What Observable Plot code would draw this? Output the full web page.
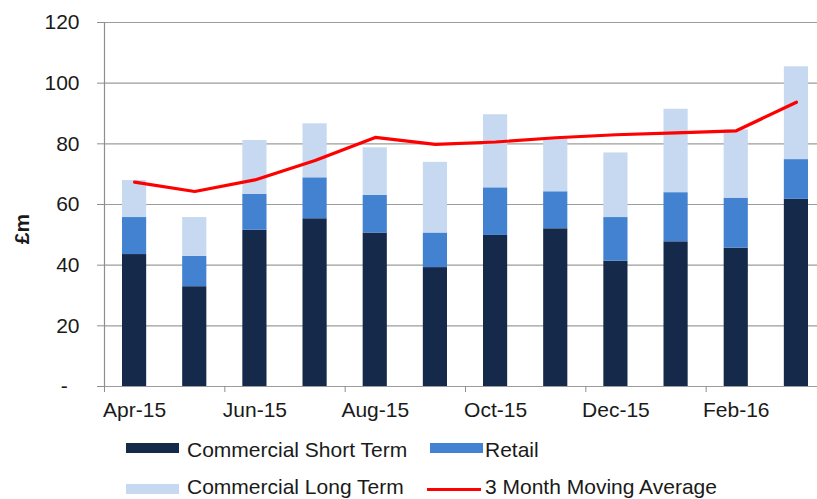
<!DOCTYPE html>
<html><head><meta charset="utf-8">
<script src="https://cdn.jsdelivr.net/npm/d3@7"></script>
<script src="https://cdn.jsdelivr.net/npm/@observablehq/plot@0.6"></script>
<style>
html,body{margin:0;padding:0;background:#fff;}
#wrap{position:relative;width:817px;height:499px;overflow:hidden;font-family:"Liberation Sans",Arial,sans-serif;color:#1a1a1a;}
#wrap svg{display:block;}
.ylab{position:absolute;left:21px;top:229px;transform:translate(-50%,-50%) rotate(-90deg);font-weight:bold;font-size:21px;line-height:21px;white-space:nowrap;}
.lg{position:absolute;font-size:21px;line-height:20px;white-space:nowrap;}
.sw{position:absolute;}
</style></head><body><div id="wrap"></div>
<script>
const months = ["Apr-15","May-15","Jun-15","Jul-15","Aug-15","Sep-15","Oct-15","Nov-15","Dec-15","Jan-16","Feb-16","Mar-16"];
const shortTerm = [43.5, 32.9, 51.5, 55.3, 50.6, 39.2, 49.8, 52.0, 41.3, 47.7, 45.6, 61.7];
const retail    = [12.2, 10.0, 11.9, 13.5, 12.4, 11.4, 15.7, 12.2, 14.4, 16.2, 16.5, 13.1];
const longTerm  = [12.2, 12.8, 17.7, 17.8, 15.7, 23.3, 24.1, 17.5, 21.3, 27.5, 22.5, 30.6];
const movingAvg = [67.4, 64.3, 68.1, 74.5, 82.1, 79.8, 80.6, 82.0, 83.0, 83.6, 84.3, 93.7];
const seriesNames = ["Commercial Short Term", "Retail", "Commercial Long Term"];
const seriesColors = ["#152a4a", "#4382d0", "#c6d9f0"];
const lineName = "3 Month Moving Average";
const lineColor = "#ff0000";
const yTicks = [0, 20, 40, 60, 80, 100, 120];
const yLabel = "£m";

const seriesValues = [shortTerm, retail, longTerm];
const bars = [];
months.forEach((m, i) => {
  seriesValues.forEach((arr, k) => bars.push({i, month: m, series: seriesNames[k], value: arr[i]}));
});
const avg = months.map((m, i) => ({i, month: m, value: movingAvg[i]}));
const boundaryTicks = months.map((m, i) => i).filter(i => i % 2 === 0);
const labelTicks = boundaryTicks.map(i => i + 0.5);

const axisColor = "#8e8e8e";
const chart = Plot.plot({
  width: 817, height: 424,
  marginLeft: 104, marginRight: -9, marginTop: 22, marginBottom: 38,
  style: {fontFamily: "'Liberation Sans', Arial, sans-serif", fontSize: "21px", color: "#1a1a1a", background: "#fff", overflow: "hidden"},
  x: {type: "linear", domain: [0, months.length]},
  y: {domain: [0, 120]},
  color: {domain: seriesNames, range: seriesColors},
  marks: [
    Plot.gridY(yTicks, {stroke: "#9c9c9c", strokeOpacity: 1, strokeWidth: 1.2}),
    Plot.rectY(bars, {x1: "i", x2: d => d.i + 1, y: "value", fill: "series", insetLeft: 18, insetRight: 18}),
    Plot.ruleX([0], {stroke: axisColor, strokeWidth: 1.2}),
    Plot.axisY(yTicks, {tickSize: 7, tickPadding: 18, stroke: axisColor, fill: "#1a1a1a", label: null,
      tickFormat: d => d === 0 ? "-\u2007" : String(d)}),
    Plot.axisX(boundaryTicks, {tickSize: 6, stroke: axisColor, tickFormat: () => "", label: null}),
    Plot.axisX(labelTicks, {tickSize: 0, tickPadding: 16, fill: "#1a1a1a", label: null,
      tickFormat: d => months[d - 0.5]}),
    Plot.lineY(avg, {x: d => d.i + 0.5, y: "value", stroke: lineColor, strokeWidth: 3.2})
  ]
});

const wrap = document.getElementById("wrap");
wrap.appendChild(chart);

const yl = document.createElement("div");
yl.className = "ylab"; yl.textContent = yLabel;
wrap.appendChild(yl);

const legendItems = [
  {name: seriesNames[0], color: seriesColors[0], kind: "box", left: 126, top: 443, textTop: 440},
  {name: seriesNames[1], color: seriesColors[1], kind: "box", left: 430, top: 443, textTop: 440},
  {name: seriesNames[2], color: seriesColors[2], kind: "box", left: 126, top: 484, textTop: 477},
  {name: lineName, color: lineColor, kind: "line", left: 427, top: 488, textTop: 477}
];
legendItems.forEach(it => {
  const sw = document.createElement("div");
  sw.className = "sw";
  sw.style.left = it.left + "px";
  sw.style.top = it.top + "px";
  sw.style.width = (it.kind === "line" ? 54 : 53) + "px";
  sw.style.height = (it.kind === "line" ? 3 : 10) + "px";
  sw.style.background = it.color;
  wrap.appendChild(sw);
  const t = document.createElement("div");
  t.className = "lg";
  t.style.left = (it.kind === "line" ? 485 : it.left + (it.left === 126 ? 61 : 55)) + "px";
  t.style.top = it.textTop + "px";
  t.textContent = it.name;
  wrap.appendChild(t);
});
</script></body></html>
